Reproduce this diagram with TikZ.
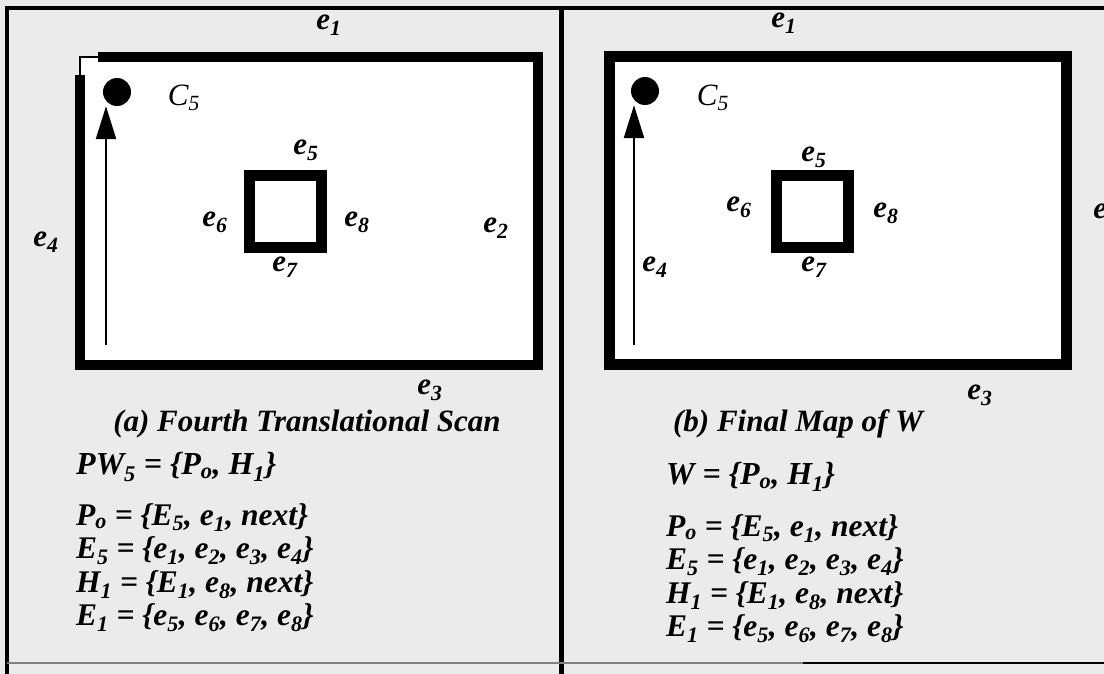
\documentclass[tikz,border=0pt]{standalone}
\usepackage{fontspec}
\setmainfont{Liberation Serif}
\usetikzlibrary{arrows.meta,positioning}

\begin{document}
\begin{tikzpicture}[
    x=1pt, y=-1pt,
    wall/.style={line width=10pt, line join=miter},
    hole/.style={draw, line width=10.5pt, fill=white, minimum size=72pt, inner sep=0pt},
    robot/.style={circle, fill=black, minimum size=28pt, inner sep=0pt},
    elabel/.style={font=\bfseries\itshape\fontsize{31}{32}\selectfont, inner sep=1pt},
    clabel/.style={font=\itshape\fontsize{31}{32}\selectfont, inner sep=1pt},
    eqn/.style={font=\bfseries\itshape\fontsize{32}{34}\selectfont, anchor=west, inner sep=0pt},
    eqlist/.style={font=\bfseries\itshape\fontsize{31.5}{#1}\selectfont, align=left,
        anchor=north west, inner sep=0pt},
    caption/.style={font=\bfseries\itshape\fontsize{31}{32}\selectfont, inner sep=0pt},
    scan/.style={-{Triangle[length=33pt,width=20pt]}, line width=2.5pt}
]
    \useasboundingbox (0,0) rectangle (1104,674);
    \fill[black!8] (0,0) rectangle (1104,674);

    % frame and divider
    \draw[line width=3.5pt] (7,674) -- (7,8) -- (1104,8);
    \draw[line width=5pt] (561,8) -- (561,674);
    \draw[black!50, line width=1.5pt] (7,663) -- (803,663);
    \draw[line width=2pt] (803,663) -- (1104,663);

    % (a) fourth translational scan
    \fill[white] (80,57) rectangle (538,364.5);
    \draw[wall] (98,57) -- (538,57) -- (538,364.5) -- (80,364.5) -- (80,75);
    \draw[line width=2pt] (80,75) |- (98,57);
    \node[hole] (holeA) at (285.5,211.5) {};
    \node[robot] (robotA) at (117,92) {};
    \coordinate (startA) at (106,345);
    \draw[scan] (startA) -- (startA |- robotA.south);

    \node[clabel] (cA) at (184,98) {C\textsubscript{5}};
    \node[elabel] (e1A) at (329,25) {e\textsubscript{1}};
    \node[elabel] (e2A) at (496,228) {e\textsubscript{2}};
    \node[elabel] (e3A) at (430,390) {e\textsubscript{3}};
    \node[elabel] (e4A) at (46,242) {e\textsubscript{4}};
    \node[elabel] (e5A) at (306,150) {e\textsubscript{5}};
    \node[elabel] (e6A) at (215,222) {e\textsubscript{6}};
    \node[elabel] (e7A) at (285,267) {e\textsubscript{7}};
    \node[elabel] (e8A) at (357,222) {e\textsubscript{8}};

    \node[caption] (capA) at (307,424) {(a) Fourth Translational Scan};
    \node[eqn] (pwA) at (76,467) {PW\textsubscript{5} = \{P\textsubscript{o}, H\textsubscript{1}\}};
    \node[eqlist=33.5] (setsA) at (76,503) {%
        P\textsubscript{o} = \{E\textsubscript{5}, e\textsubscript{1}, next\}\\
        E\textsubscript{5} = \{e\textsubscript{1}, e\textsubscript{2}, e\textsubscript{3}, e\textsubscript{4}\}\\
        H\textsubscript{1} = \{E\textsubscript{1}, e\textsubscript{8}, next\}\\
        E\textsubscript{1} = \{e\textsubscript{5}, e\textsubscript{6}, e\textsubscript{7}, e\textsubscript{8}\}};

    % (b) final map of W
    \draw[line width=11pt, fill=white] (609,56.5) rectangle (1066,364.5);
    \node[hole] (holeB) at (812.5,211.5) {};
    \node[robot] (robotB) at (645,91) {};
    \coordinate (startB) at (634,345);
    \draw[scan] (startB) -- (startB |- robotB.south);

    \node[clabel] (cB) at (713,98) {C\textsubscript{5}};
    \node[elabel] (e1B) at (784,23) {e\textsubscript{1}};
    \node[elabel] (e2B) at (1106,214) {e\textsubscript{2}};
    \node[elabel] (e3B) at (980,395) {e\textsubscript{3}};
    \node[elabel] (e4B) at (655,267) {e\textsubscript{4}};
    \node[elabel] (e5B) at (814,157) {e\textsubscript{5}};
    \node[elabel] (e6B) at (739,207) {e\textsubscript{6}};
    \node[elabel] (e7B) at (814,267) {e\textsubscript{7}};
    \node[elabel] (e8B) at (886,213) {e\textsubscript{8}};

    \node[caption] (capB) at (798,424) {(b) Final Map of W};
    \node[eqn] (wB) at (666,477) {W = \{P\textsubscript{o}, H\textsubscript{1}\}};
    \node[eqlist=33.5] (setsB) at (666,514) {%
        P\textsubscript{o} = \{E\textsubscript{5}, e\textsubscript{1}, next\}\\
        E\textsubscript{5} = \{e\textsubscript{1}, e\textsubscript{2}, e\textsubscript{3}, e\textsubscript{4}\}\\
        H\textsubscript{1} = \{E\textsubscript{1}, e\textsubscript{8}, next\}\\
        E\textsubscript{1} = \{e\textsubscript{5}, e\textsubscript{6}, e\textsubscript{7}, e\textsubscript{8}\}};
\end{tikzpicture}
\end{document}
